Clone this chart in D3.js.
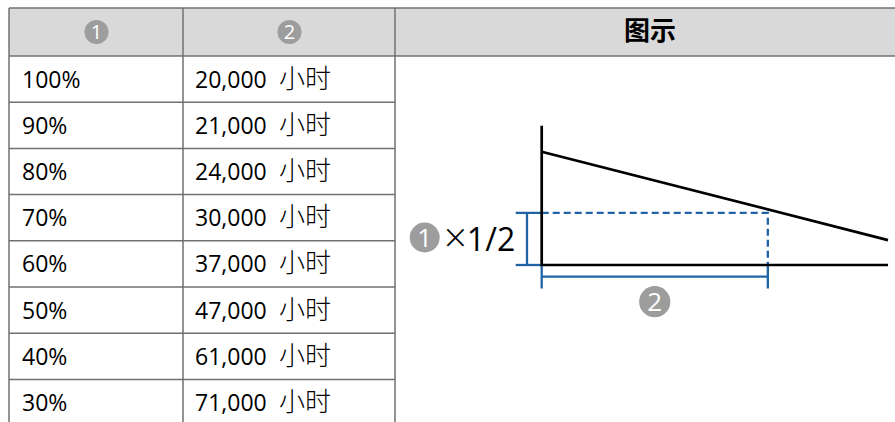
<!DOCTYPE html>
<html><head><meta charset="utf-8">
<script src="https://cdn.jsdelivr.net/npm/d3@7"></script>
<style>html,body{margin:0;padding:0;background:#fff;overflow:hidden}</style>
</head><body>
<svg id="c" width="895" height="422"></svg>
<script>
// ---- data ----
const headerMarks = ["1", "2"];
const headerTitle = "图示";
const brightness = ["100%", "90%", "80%", "70%", "60%", "50%", "40%", "30%"];
const hours = [20000, 21000, 24000, 30000, 37000, 47000, 61000, 71000];
const unit = "小时";
// schematic diagram (relative brightness % vs relative time %)
const curveT = [0, 100];
const curveB = [100, 22];
const axisTopB = 123;
const halfB = 46;
const halfT = 65.3;
const halfTimes = "×";
const halfLabel = "1/2";

// ---- layout ----
const svg = d3.select("#c");
const lineColor = "#707070";
const blue = "#1f63a6";
const gray = "#9d9d9d";
const latin = "'Open Sans','Noto Sans',sans-serif";
const cjk = "'Noto Sans CJK SC',sans-serif";

const colX = [9, 183, 395, 905];
const headTop = 8, headBot = 56, rowH = 46.2;
const yRow = d3.scaleBand().domain(d3.range(brightness.length))
  .range([headBot, headBot + rowH * brightness.length]).paddingInner(0).paddingOuter(0);

// header background
svg.append("rect").attr("x", colX[0]).attr("y", headTop)
  .attr("width", colX[3] - colX[0]).attr("height", headBot - headTop).attr("fill", "#d9d9d9");

// horizontal lines
const hl = [headTop, headBot].concat(d3.range(1, brightness.length + 1).map(i => yRow(i - 1) + rowH));
svg.selectAll(".hl").data(hl).join("line")
  .attr("x1", colX[0]).attr("x2", (d, i) => i <= 1 ? colX[3] : colX[2])
  .attr("y1", d => d).attr("y2", d => d)
  .attr("stroke", lineColor).attr("stroke-width", 1.5);
// vertical lines
svg.selectAll(".vl").data([colX[0], colX[1], colX[2]]).join("line")
  .attr("x1", d => d).attr("x2", d => d)
  .attr("y1", headTop).attr("y2", 422)
  .attr("stroke", lineColor).attr("stroke-width", 1.5);

function circled(g, cx, cy, r, label, fs) {
  g.append("circle").attr("cx", cx).attr("cy", cy).attr("r", r).attr("fill", gray);
  g.append("text").attr("x", cx).attr("y", cy).attr("dy", "0.36em")
    .attr("text-anchor", "middle").attr("fill", "#fff")
    .attr("font-family", latin).attr("font-size", fs).text(label);
}

// header cells
headerMarks.forEach((m, i) => circled(svg, (colX[i] + colX[i + 1]) / 2 + 0.5, 32, 12, m, 20));
svg.append("text").attr("x", 650).attr("y", 31).attr("dy", "0.36em")
  .attr("text-anchor", "middle").attr("font-family", cjk).attr("font-weight", "bold")
  .attr("font-size", 26).attr("fill", "#000").text(headerTitle);

// body rows
const fmt = d3.format(",");
const rows = svg.selectAll(".row").data(brightness).join("g");
rows.append("text").attr("x", 22).attr("y", (d, i) => yRow(i) + 31.5)
  .attr("font-family", latin).attr("font-size", 23).attr("fill", "#000").text(d => d);
rows.append("text").attr("x", 195).attr("y", (d, i) => yRow(i) + 31.5)
  .attr("font-family", latin).attr("font-size", 23).attr("fill", "#000").text((d, i) => fmt(hours[i]));
rows.append("text").attr("x", 279).attr("y", (d, i) => yRow(i) + 31.5)
  .attr("font-family", cjk).attr("font-size", 26).attr("font-weight", 300).attr("fill", "#000").text(unit);

// ---- diagram ----
const xS = d3.scaleLinear().domain([0, 100]).range([541.7, 888]);
const yS = d3.scaleLinear().domain([0, 100]).range([265, 151.7]);
const d = svg.append("g");

// dashed half-life guides
d.append("path").attr("d", d3.line()([[xS(0), yS(halfB)], [xS(halfT), yS(halfB)], [xS(halfT), yS(0)]]))
  .attr("fill", "none").attr("stroke", blue).attr("stroke-width", 2.3).attr("stroke-dasharray", "7,4");

// left bracket
const bx = xS(0) - 14.7;
d.append("path").attr("d", d3.line()([[bx, yS(halfB)], [bx, yS(0)]]))
  .attr("stroke", blue).attr("stroke-width", 2.3);
[halfB, 0].forEach(v => d.append("line").attr("x1", xS(0) - 26).attr("x2", xS(0) + 1)
  .attr("y1", yS(v)).attr("y2", yS(v)).attr("stroke", blue).attr("stroke-width", 2.3));

// bottom bracket
const by = yS(0) + 11.7;
d.append("line").attr("x1", xS(0)).attr("x2", xS(halfT)).attr("y1", by).attr("y2", by)
  .attr("stroke", blue).attr("stroke-width", 2.3);
[0, halfT].forEach(v => d.append("line").attr("x1", xS(v)).attr("x2", xS(v))
  .attr("y1", yS(0)).attr("y2", yS(0) + 23.5).attr("stroke", blue).attr("stroke-width", 2.3));

// axes
d.append("path").attr("d", d3.line()([[xS(0), yS(axisTopB)], [xS(0), yS(0)], [xS(100), yS(0)]]))
  .attr("fill", "none").attr("stroke", "#000").attr("stroke-width", 2.7);
// brightness curve
d.append("path").attr("d", d3.line()(curveT.map((t, i) => [xS(t), yS(curveB[i])])))
  .attr("fill", "none").attr("stroke", "#000").attr("stroke-width", 2.7);

// labels
circled(d, 424.7, 237.5, 15, headerMarks[0], 26);
const lab = d.append("text").attr("x", 444).attr("y", 251).attr("font-family", latin)
  .attr("font-size", 32).attr("fill", "#000");
lab.append("tspan").attr("font-size", 40).attr("font-weight", 300).attr("dy", 1).text(halfTimes);
lab.append("tspan").attr("dy", -1).text(halfLabel);
circled(d, (xS(0) + xS(halfT)) / 2, 301.7, 15.6, headerMarks[1], 26);
</script>
</body></html>
